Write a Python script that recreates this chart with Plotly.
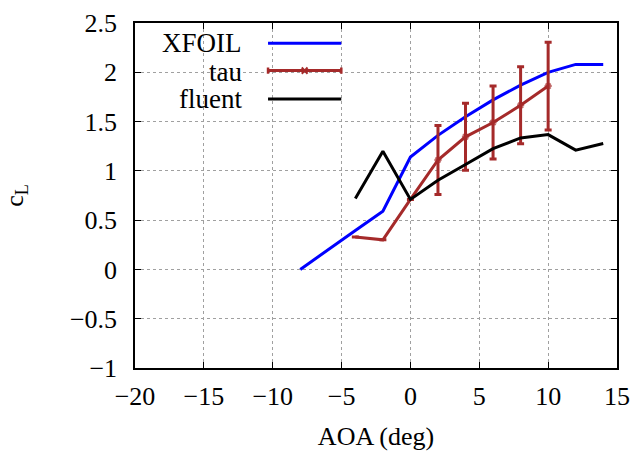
import plotly.graph_objects as go

# Lift coefficient vs angle of attack
xfoil_aoa = [-8, -6, -4, -2, 0, 2, 4, 6, 8, 10, 12, 14]
xfoil_cl = [0.0, 0.2, 0.395, 0.59, 1.14, 1.36, 1.55, 1.72, 1.87, 2.0, 2.08, 2.08]

tau_aoa = [-4, -2, 0, 2, 4, 6, 8, 10]
tau_cl = [0.33, 0.30, 0.71, 1.11, 1.345, 1.49, 1.665, 1.86]
tau_err = [None, None, None, 0.35, 0.34, 0.37, 0.39, 0.445]

fluent_aoa = [-4, -2, 0, 2, 4, 6, 8, 10, 12, 14]
fluent_cl = [0.72, 1.2, 0.71, 0.905, 1.064, 1.226, 1.334, 1.368, 1.21, 1.277]

x_ticks = [-20, -15, -10, -5, 0, 5, 10, 15]
y_ticks = [-1, -0.5, 0, 0.5, 1, 1.5, 2, 2.5]

FONT = ("'Liberation Serif', 'DejaVu Serif', 'Nimbus Roman', 'FreeSerif', "
        "'Times New Roman', Times, 'Noto Serif', serif")
BLUE = "#0000ff"
BROWN = "#a52a2a"
BLACK = "#000000"

fig = go.Figure()

fig.add_trace(go.Scatter(
    x=xfoil_aoa, y=xfoil_cl, mode="lines", name="XFOIL",
    line=dict(color=BLUE, width=3), showlegend=False,
))

fig.add_trace(go.Scatter(
    x=tau_aoa, y=tau_cl, mode="lines+markers", name="tau",
    line=dict(color=BROWN, width=3),
    marker=dict(symbol="asterisk-open", color=BROWN,
                size=[0 if e is None else 6 for e in tau_err],
                line=dict(color=BROWN, width=2)),
    error_y=dict(type="data", array=tau_err, symmetric=True,
                 color=BROWN, thickness=3, width=3.5),
    showlegend=False,
))

fig.add_trace(go.Scatter(
    x=fluent_aoa, y=fluent_cl, mode="lines", name="fluent",
    line=dict(color=BLACK, width=3), showlegend=False,
))

# Key: opaque box in the upper-left corner with right-aligned labels
shapes = [dict(type="rect", xref="paper", yref="paper",
               x0=0, x1=0.442, y0=0.737, y1=1.0,
               fillcolor="white", line=dict(width=0), layer="between")]
annotations = []
key = [("XFOIL", BLUE, 0.941, 0.941),
       ("tau", BROWN, 0.859, 0.862),
       ("fluent", BLACK, 0.779, 0.780)]
lx0, lx1 = 0.276, 0.428
for label, color, ty, ly in key:
    annotations.append(dict(text=label, xref="paper", yref="paper",
                            x=0.226, y=ty, xanchor="right", yanchor="middle",
                            showarrow=False,
                            font=dict(family=FONT, size=27, color="black")))
    shapes.append(dict(type="line", xref="paper", yref="paper",
                       x0=lx0, x1=lx1, y0=ly, y1=ly,
                       line=dict(color=color, width=3)))
    if label == "tau":
        for cx in (lx0, lx1):
            shapes.append(dict(type="line", xref="paper", yref="paper",
                               x0=cx, x1=cx, y0=ly - 0.009, y1=ly + 0.009,
                               line=dict(color=color, width=2.5)))
        mx = (lx0 + lx1) / 2
        for dx, dy in ((0.006, 0.009), (0.006, -0.009)):
            shapes.append(dict(type="line", xref="paper", yref="paper",
                               x0=mx - dx, x1=mx + dx, y0=ly - dy, y1=ly + dy,
                               line=dict(color=color, width=2)))

axis_common = dict(
    showgrid=True, gridcolor="#a0a0a0", griddash="dot", gridwidth=1,
    zeroline=False, showline=True, linecolor="black", linewidth=1.5,
    mirror="allticks", ticks="inside", ticklen=6, tickwidth=1.2,
    tickcolor="black", automargin=False,
    tickfont=dict(family=FONT, size=26, color="black"),
)

fig.update_xaxes(range=[-20, 15], tickvals=x_ticks, ticklabelstandoff=4,
                 title=dict(text="AOA (deg)", standoff=17,
                            font=dict(family=FONT, size=26, color="black")),
                 **axis_common)
fig.update_yaxes(range=[-1, 2.5], tickvals=y_ticks, ticklabelstandoff=11,
                 title=dict(text="c<sub>L</sub>", standoff=42,
                            font=dict(family=FONT, size=26, color="black")),
                 **axis_common)

fig.update_layout(
    width=633, height=453,
    margin=dict(l=135, r=16, t=23, b=85),
    paper_bgcolor="white", plot_bgcolor="white",
    shapes=shapes, annotations=annotations,
    font=dict(family=FONT, color="black"),
)

fig.write_html("out.html")
